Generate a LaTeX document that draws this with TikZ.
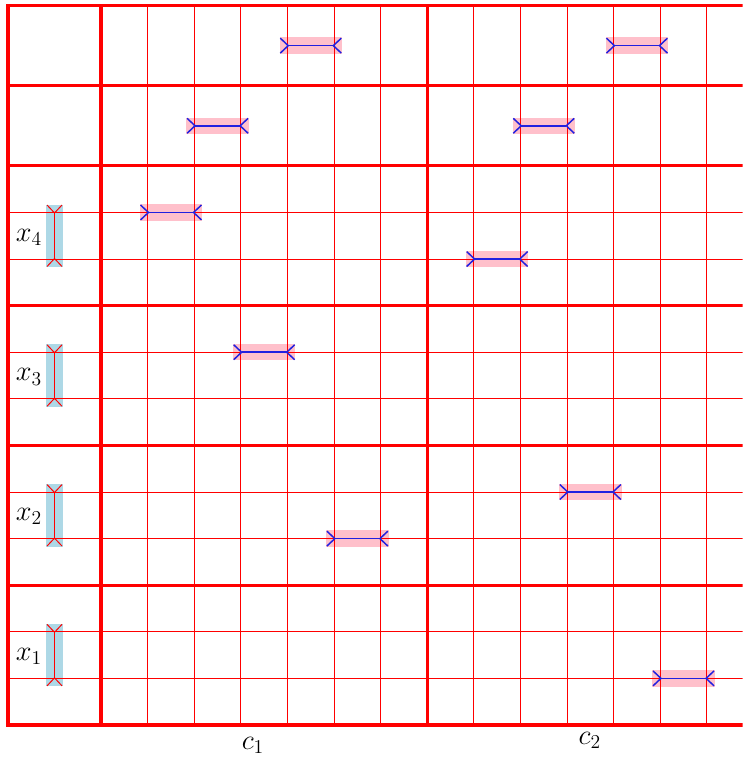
\documentclass[tikz,border=0pt]{standalone}
\usepackage{tikz}
\usetikzlibrary{arrows.meta}
\definecolor{gridc}{HTML}{FF0000}
\definecolor{spanc}{HTML}{2020E0}
\definecolor{barc}{HTML}{FFC0CB}
\definecolor{bandc}{HTML}{ADD8E6}
\tikzset{
  major/.style={draw=gridc, line width=2pt},
  minor/.style={draw=gridc, line width=0.6pt},
  bar/.style={fill=barc},
  band/.style={fill=bandc},
  span/.style={>={Straight Barb[length=1.7mm,width=3.2mm]}, >-<},
  hspan/.style={span, draw=spanc, line width=0.9pt},
  vspan/.style={span, draw=gridc, line width=0.6pt},
  lab/.style={font=\LARGE, inner sep=0pt},
}
\begin{document}
\begin{tikzpicture}
\useasboundingbox (-0.17,-0.73) rectangle (15.77,15.56);
\clip (-0.17,-0.73) rectangle (15.77,15.56);
% pink bars under the grid
\fill[bar] (5.83,14.405) rectangle (7.17,14.755);
\fill[bar] (12.83,14.405) rectangle (14.17,14.755);
\fill[bar] (3.83,12.685) rectangle (5.17,13.035);
\fill[bar] (10.83,12.685) rectangle (12.17,13.035);
\fill[bar] (2.83,10.825) rectangle (4.17,11.175);
\fill[bar] (9.83,9.825) rectangle (11.17,10.175);
\fill[bar] (4.83,7.825) rectangle (6.17,8.175);
\fill[bar] (11.83,4.825) rectangle (13.17,5.175);
\fill[bar] (6.83,3.825) rectangle (8.17,4.175);
\fill[bar] (13.83,0.825) rectangle (15.17,1.175);
\fill[band] (0.825,9.83) rectangle (1.175,11.17);
\fill[band] (0.825,6.83) rectangle (1.175,8.17);
\fill[band] (0.825,3.83) rectangle (1.175,5.17);
\fill[band] (0.825,0.83) rectangle (1.175,2.17);
% grid
\draw[minor] (3,0) -- (3,15.44) (4,0) -- (4,15.44) (5,0) -- (5,15.44) (6,0) -- (6,15.44) (7,0) -- (7,15.44) (8,0) -- (8,15.44);
\draw[minor] (10,0) -- (10,15.44) (11,0) -- (11,15.44) (12,0) -- (12,15.44) (13,0) -- (13,15.44) (14,0) -- (14,15.44) (15,0) -- (15,15.44);
\draw[minor] (0,1) -- (16,1) (0,2) -- (16,2) (0,4) -- (16,4) (0,5) -- (16,5);
\draw[minor] (0,7) -- (16,7) (0,8) -- (16,8) (0,10) -- (16,10) (0,11) -- (16,11);
\draw[major] (0,0) rectangle (16,15.44);
\draw[major] (2,0) -- (2,15.44) (9,0) -- (9,15.44);
\draw[major] (0,3) -- (16,3) (0,6) -- (16,6) (0,9) -- (16,9) (0,12) -- (16,12) (0,13.72) -- (16,13.72);
% intervals
\draw[hspan] (5.83,14.58) -- (7.17,14.58);
\draw[hspan] (12.83,14.58) -- (14.17,14.58);
\draw[hspan] (3.83,12.86) -- (5.17,12.86);
\draw[hspan] (10.83,12.86) -- (12.17,12.86);
\draw[hspan] (2.83,11) -- (4.17,11);
\draw[hspan] (9.83,10) -- (11.17,10);
\draw[hspan] (4.83,8) -- (6.17,8);
\draw[hspan] (11.83,5) -- (13.17,5);
\draw[hspan] (6.83,4) -- (8.17,4);
\draw[hspan] (13.83,1) -- (15.17,1);
\draw[vspan] (1,9.83) -- (1,11.17);
\draw[vspan] (1,6.83) -- (1,8.17);
\draw[vspan] (1,3.83) -- (1,5.17);
\draw[vspan] (1,0.83) -- (1,2.17);
% labels
\node[lab] (x4) at (0.45,10.47) {$x_4$};
\node[lab] (x3) at (0.45,7.47) {$x_3$};
\node[lab] (x2) at (0.45,4.47) {$x_2$};
\node[lab] (x1) at (0.45,1.47) {$x_1$};
\node[lab] (c1) at (5.26,-0.44) {$c_1$};
\node[lab] (c2) at (12.49,-0.33) {$c_2$};
\end{tikzpicture}
\end{document}
